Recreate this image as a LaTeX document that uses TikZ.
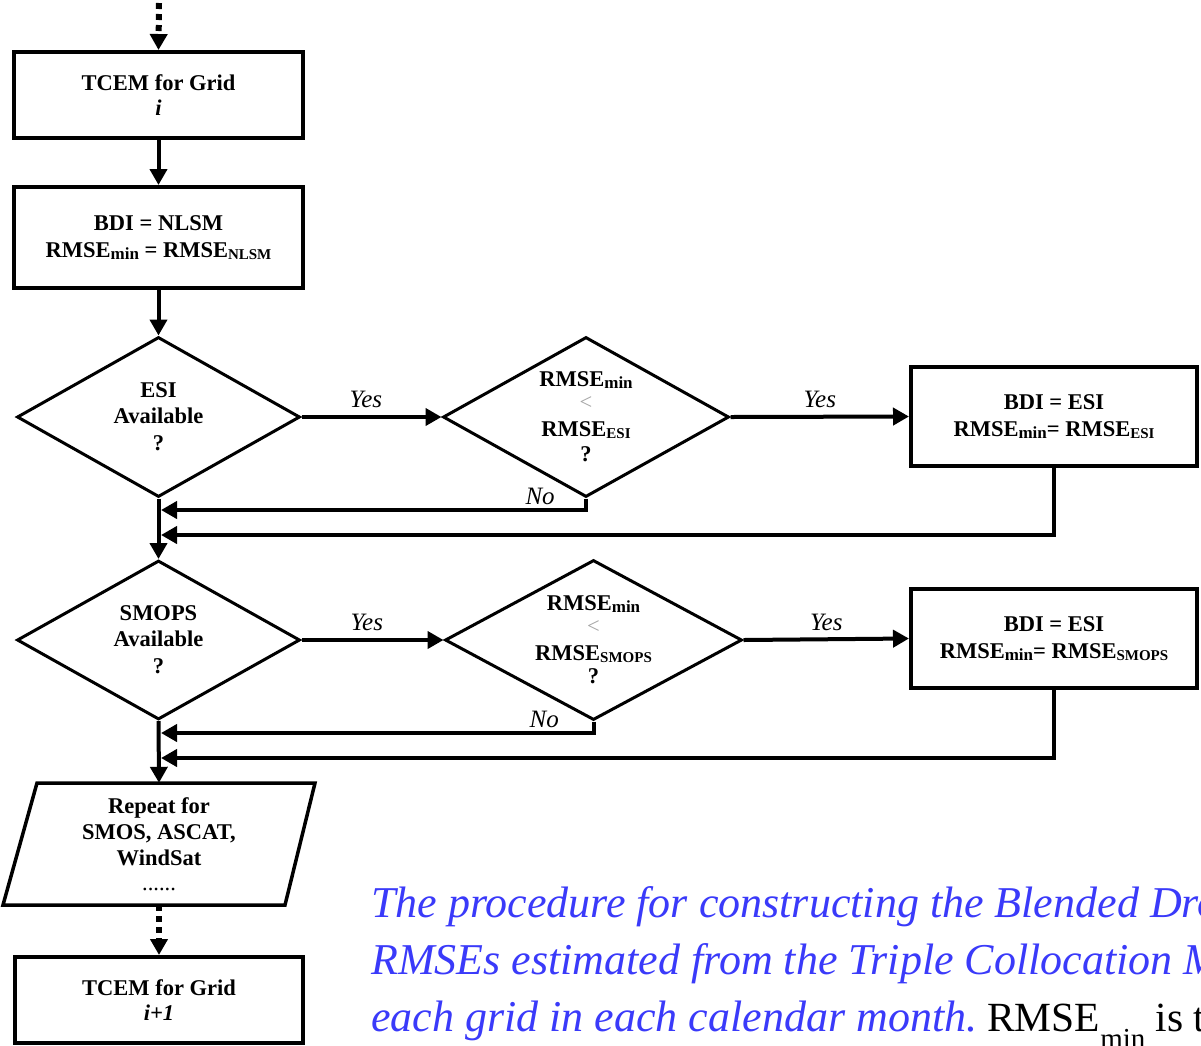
\documentclass[tikz,border=0pt]{standalone}
\usepackage{fontspec}
\setmainfont{Liberation Serif}
\newfontfamily\capfont{Liberation Serif}
\usetikzlibrary{shapes.geometric,arrows.meta}
\definecolor{capblue}{RGB}{58,58,250}
\newcommand\lsub[2][17]{\raisebox{-2pt}{\fontsize{#1}{#1}\selectfont #2}}
\tikzset{
  txt/.style={font=\bfseries\fontsize{22.5}{27}\selectfont, align=center, inner sep=0pt},
  boxn/.style={txt, draw, line width=4pt, rectangle},
  dia/.style={txt, diamond, draw, line width=3pt, aspect=1.77},
  arr/.style={line width=4pt, -{Triangle[length=16pt,width=17pt]}},
  dotarr/.style={line width=6pt, dash pattern=on 6pt off 5pt, -{Triangle[length=16pt,width=17pt]}},
  lbl/.style={font=\itshape\fontsize{25}{27}\selectfont, inner sep=0pt},
  capt/.style={font=\capfont\itshape\fontsize{44}{57}\selectfont, text=capblue, inner sep=0pt}
}
\begin{document}
\begin{tikzpicture}[x=1pt,y=-1pt]
\useasboundingbox (0,0) rectangle (1201,1045);
\fill[white] (0,0) rectangle (1201,1045);

% boxes
\node[boxn, minimum width=289pt, minimum height=86pt] (b1) at (158.5,95) {TCEM for Grid\\[-2pt]\textit{i}};
\node[boxn, minimum width=289pt, minimum height=101pt] (b2) at (158.5,237.5) {BDI = NLSM\\RMSE\lsub{min} = RMSE\lsub[15]{NLSM}};
\node[dia, minimum width=283pt, minimum height=160pt] (d1) at (158.5,417) {ESI\\[-1pt]Available\\?};
\node[dia, minimum width=286pt, minimum height=160pt] (d2) at (586,417) {RMSE\lsub{min}\\[-4pt]{\mdseries\color{gray!70}<}\\RMSE\lsub[15]{ESI}\\[-2pt]?};
\node[boxn, minimum width=286pt, minimum height=99pt] (b3) at (1054,416.5) {BDI = ESI\\RMSE\lsub{min}= RMSE\lsub[15]{ESI}};

\node[dia, minimum width=283pt, minimum height=159pt] (d3) at (158.5,640) {SMOPS\\[-1pt]Available\\?};
\node[dia, minimum width=297pt, minimum height=160pt] (d4) at (593.5,640) {RMSE\lsub{min}\\[-4pt]{\mdseries\color{gray!70}<}\\RMSE\lsub[15]{SMOPS}\\[-4pt]?};
\node[boxn, minimum width=286pt, minimum height=99pt] (b4) at (1054,638.5) {BDI = ESI\\RMSE\lsub{min}= RMSE\lsub[15]{SMOPS}};

% parallelogram
\node[txt, minimum width=282pt, minimum height=122pt] (rep) at (159,844) {Repeat for\\[-1pt]SMOS, ASCAT,\\[-1pt]WindSat\\[-2pt]{\mdseries ......}};
\draw[line width=3.5pt, line join=miter] (37,783) -- (315,783) -- (285,905) -- (3,905) -- cycle;

\node[boxn, minimum width=288pt, minimum height=86pt] (b5) at (159,1000) {TCEM for Grid\\[-2pt]\textit{i+1}};

% connectors
\coordinate (top) at (159,3);
\draw[dotarr] (top) -- (b1.north);
\draw[arr] (b1) -- (b2);
\draw[arr] (b2) -- (d1.north);
\draw[arr] (d1.east) -- node[lbl, pos=0.46, above=7pt] {Yes} (d2.west);
\draw[arr] (d2.east) -- node[lbl, above=7pt] {Yes} (b3.west);
\coordinate (j1) at (161,510);
\coordinate (j2) at (161,535);
\draw[arr, line join=miter] (d2.south) |- node[lbl, pos=0.554, above=3pt] {No} (j1);
\draw[arr, line join=miter] (b3.south) |- (j2);
\draw[arr] (d1.south) -- (d3.north);

\draw[arr] (d3.east) -- node[lbl, pos=0.46, above=7pt] {Yes} (d4.west);
\draw[arr] (d4.east) -- node[lbl, above=7pt] {Yes} (b4.west);
\coordinate (j3) at (161,733);
\coordinate (j4) at (161,758);
\draw[arr, line join=miter] (d4.south) |- node[lbl, pos=0.557, above=3pt] {No} (j3);
\draw[arr, line join=miter] (b4.south) |- (j4);
\draw[arr] (d3.south) -- (rep.north);
\draw[dotarr] (rep.south) -- (b5.north);

% caption
\begin{scope}
\clip (0,0) rectangle (1201,1045);
\node[capt, anchor=base west] (c1) at (371,917) {The procedure for constructing the Blended Drought};
\node[capt, anchor=base west] (c2) at (371,974) {RMSEs estimated from the Triple Collocation Method};
\node[capt, anchor=base west] (c3) at (371,1031) {each grid in each calendar month.{\upshape\color{black}\fontspec{Liberation Serif}\fontsize{41.5}{57}\selectfont\hspace{10pt}RMSE\raisebox{-17pt}{\fontsize{29}{29}\selectfont min} is the}};
\end{scope}
\end{tikzpicture}
\end{document}
